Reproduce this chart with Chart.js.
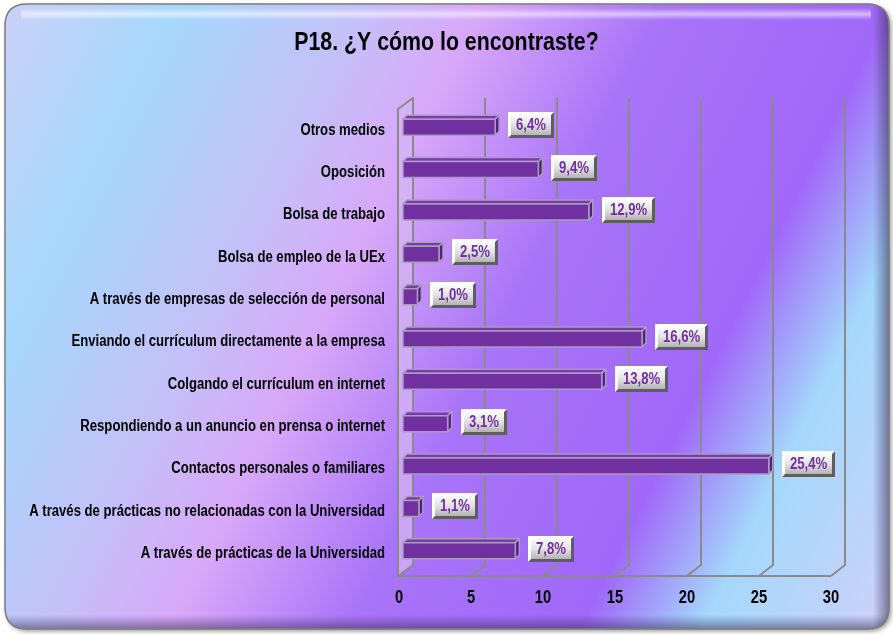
<!DOCTYPE html>
<html>
<head>
<meta charset="utf-8">
<script src="https://cdn.jsdelivr.net/npm/chart.js@4.4.1/dist/chart.umd.min.js"></script>
<style>
  html, body { margin: 0; padding: 0; background: #fff; }
  #wrap { width: 893px; height: 634px; }
</style>
</head>
<body>
<div id="wrap"><canvas id="chart" width="893" height="634"></canvas></div>
<script>
const categories = [
  "Otros medios",
  "Oposición",
  "Bolsa de trabajo",
  "Bolsa de empleo de la UEx",
  "A través de empresas de selección de personal",
  "Enviando el currículum directamente a la empresa",
  "Colgando el currículum en internet",
  "Respondiendo a un anuncio en prensa o internet",
  "Contactos personales o familiares",
  "A través de prácticas no relacionadas con la Universidad",
  "A través de prácticas de la Universidad"
];
const values = [6.4, 9.4, 12.9, 2.5, 1.0, 16.6, 13.8, 3.1, 25.4, 1.1, 7.8];
const xTicks = [0, 5, 10, 15, 20, 25, 30];
const title = "P18. ¿Y cómo lo encontraste?";

const FONT = "'Liberation Sans', Arial, sans-serif";
const GRID = "#8a8a8a";

// Arial Narrow look: bold Liberation Sans squeezed horizontally
function narrowText(ctx, text, x, y, size, align, color, baseline) {
  ctx.save();
  ctx.translate(x, y);
  ctx.scale(0.82, 1);
  ctx.font = "bold " + size + "px " + FONT;
  ctx.textAlign = align;
  ctx.textBaseline = baseline || "middle";
  ctx.fillStyle = color;
  ctx.fillText(text, 0, 0);
  ctx.restore();
}

function roundPath(ctx, x, y, w, h, r) {
  ctx.beginPath();
  ctx.moveTo(x + r, y);
  ctx.lineTo(x + w - r, y);
  ctx.quadraticCurveTo(x + w, y, x + w, y + r);
  ctx.lineTo(x + w, y + h - r);
  ctx.quadraticCurveTo(x + w, y + h, x + w - r, y + h);
  ctx.lineTo(x + r, y + h);
  ctx.quadraticCurveTo(x, y + h, x, y + h - r);
  ctx.lineTo(x, y + r);
  ctx.quadraticCurveTo(x, y, x + r, y);
  ctx.closePath();
}

function poly(ctx, pts, fill, stroke, lw) {
  ctx.beginPath();
  ctx.moveTo(pts[0][0], pts[0][1]);
  for (let i = 1; i < pts.length; i++) ctx.lineTo(pts[i][0], pts[i][1]);
  ctx.closePath();
  if (fill) { ctx.fillStyle = fill; ctx.fill(); }
  if (stroke) { ctx.strokeStyle = stroke; ctx.lineWidth = lw || 1; ctx.stroke(); }
}

const frame3d = {
  id: "frame3d",
  beforeDraw(chart) {
    const ctx = chart.ctx;
    const fx = 5, fy = 4, fw = 884, fh = 625, r = 22;
    ctx.save();
    ctx.fillStyle = "#fff";
    ctx.fillRect(0, 0, chart.width, chart.height);

    // panel background
    const g = ctx.createLinearGradient(0, 0, 968, 484);
    g.addColorStop(0.00, "#cdd0f8");
    g.addColorStop(0.15, "#a6d8fc");
    g.addColorStop(0.30, "#c4c0f8");
    g.addColorStop(0.40, "#d8a8f8");
    g.addColorStop(0.55, "#a874f8");
    g.addColorStop(0.74, "#a068f8");
    g.addColorStop(0.84, "#a4d8fc");
    g.addColorStop(1.00, "#d0d0f8");
    ctx.shadowColor = "rgba(0,0,0,0.45)";
    ctx.shadowBlur = 5;
    ctx.shadowOffsetX = 2;
    ctx.shadowOffsetY = 2;
    roundPath(ctx, fx, fy, fw, fh, r);
    ctx.fillStyle = g;
    ctx.fill();
    ctx.shadowColor = "transparent";

    // bevel: dark right / bottom, light top
    ctx.save();
    roundPath(ctx, fx, fy, fw, fh, r);
    ctx.clip();
    let s = ctx.createLinearGradient(fx + fw - 16, 0, fx + fw, 0);
    s.addColorStop(0, "rgba(50,40,80,0)");
    s.addColorStop(1, "rgba(50,40,80,0.55)");
    ctx.fillStyle = s;
    ctx.fillRect(fx + fw - 16, fy, 16, fh);
    s = ctx.createLinearGradient(0, fy + fh - 14, 0, fy + fh);
    s.addColorStop(0, "rgba(50,40,80,0)");
    s.addColorStop(1, "rgba(50,40,80,0.5)");
    ctx.fillStyle = s;
    ctx.fillRect(fx, fy + fh - 14, fw, 14);
    s = ctx.createLinearGradient(0, fy + 4, 0, fy + 16);
    s.addColorStop(0, "rgba(255,255,255,0)");
    s.addColorStop(0.5, "rgba(255,255,255,0.55)");
    s.addColorStop(1, "rgba(255,255,255,0)");
    ctx.fillStyle = s;
    ctx.fillRect(fx + 16, fy + 4, fw - 34, 12);
    ctx.restore();

    roundPath(ctx, fx, fy, fw, fh, r);
    ctx.strokeStyle = "#7c7c7c";
    ctx.lineWidth = 1.5;
    ctx.stroke();

    narrowText(ctx, title, chart.width / 2, 50, 26, "center", "#000", "alphabetic");
    ctx.restore();
  },
  beforeDatasetsDraw(chart) {
    const ctx = chart.ctx;
    const xs = chart.scales.x;
    const a = chart.chartArea;
    const topBack = a.top - 8, floorFront = a.bottom + 4, floorBack = floorFront - 11;
    ctx.save();
    ctx.lineJoin = "round";
    // left wall
    const x0 = xs.getPixelForValue(0);
    poly(ctx, [[x0 - 5, topBack + 11], [x0 + 10, topBack], [x0 + 10, floorBack], [x0 - 5, floorFront]],
      "rgba(214,182,246,0.75)", GRID, 2);
    // back gridlines and floor ticks
    xTicks.forEach(v => {
      if (v === 0) return;
      const xp = xs.getPixelForValue(v);
      ctx.beginPath();
      ctx.moveTo(xp + 10, topBack);
      ctx.lineTo(xp + 10, floorBack);
      ctx.lineTo(xp - 4, floorFront);
      ctx.strokeStyle = GRID;
      ctx.lineWidth = 2;
      ctx.stroke();
    });
    // front floor edge
    ctx.beginPath();
    ctx.moveTo(x0 - 5, floorFront);
    ctx.lineTo(xs.getPixelForValue(xTicks[xTicks.length - 1]) - 4, floorFront);
    ctx.strokeStyle = GRID;
    ctx.lineWidth = 2;
    ctx.stroke();

    // category labels
    const ys = chart.scales.y;
    categories.forEach((c, i) => {
      narrowText(ctx, c, x0 - 18, ys.getPixelForValue(i) + 3, 16, "right", "#000");
    });
    ctx.restore();
  },
  afterDatasetsDraw(chart) {
    const ctx = chart.ctx;
    const xs = chart.scales.x;
    const a = chart.chartArea;
    const meta = chart.getDatasetMeta(0);
    const d = 4;
    ctx.save();
    ctx.lineJoin = "round";
    meta.data.forEach((el, i) => {
      const p = el.getProps(["x", "y", "base", "height"], true);
      const x1 = p.x, x0 = p.base, t = p.y - p.height / 2, b = p.y + p.height / 2;
      const edge = "#a99cbf";
      // top face
      poly(ctx, [[x0, t], [x0 + d, t - d], [x1 + d, t - d], [x1, t]], "#7b3aab", edge, 1.5);
      // side face
      poly(ctx, [[x1, t], [x1 + d, t - d], [x1 + d, b - d], [x1, b]], "#52207e", edge, 1.5);
      // front face
      poly(ctx, [[x0, t], [x1, t], [x1, b], [x0, b]], "#7030a0", edge, 1.5);

      // value box
      const txt = values[i].toFixed(1).replace(".", ",") + "%";
      ctx.font = "bold 16px " + FONT;
      const tw = ctx.measureText(txt).width * 0.82;
      const bw = Math.round(tw + 16), bh = 26;
      const bx = Math.round(x1 + 13), by = Math.round(p.y - 15);
      ctx.fillStyle = "#5e5e5e";
      ctx.fillRect(bx, by, bw, bh);
      poly(ctx, [[bx, by], [bx + bw, by], [bx + bw - 3, by + 3], [bx + 3, by + bh - 3], [bx, by + bh]], "#ffffff");
      const gg = ctx.createLinearGradient(0, by + 3, 0, by + bh - 3);
      gg.addColorStop(0, "#fbfbfb");
      gg.addColorStop(0.5, "#e2e2e2");
      gg.addColorStop(1, "#b4b4b4");
      ctx.fillStyle = gg;
      ctx.fillRect(bx + 3, by + 3, bw - 6, bh - 6);
      narrowText(ctx, txt, bx + bw / 2, by + bh / 2 + 1, 16, "center", "#7030a0");
    });

    // x tick labels on the front floor edge
    xTicks.forEach(v => {
      narrowText(ctx, String(v), xs.getPixelForValue(v) - 4, a.bottom + 26, 18, "center", "#000");
    });
    ctx.restore();
  }
};

new Chart(document.getElementById("chart"), {
  type: "bar",
  data: {
    labels: categories,
    datasets: [{
      data: values,
      backgroundColor: "rgba(0,0,0,0)",
      borderWidth: 0,
      barThickness: 16
    }]
  },
  options: {
    indexAxis: "y",
    responsive: false,
    animation: false,
    layout: { padding: { left: 403, right: 58, top: 106, bottom: 62 } },
    plugins: {
      legend: { display: false },
      tooltip: { enabled: false },
      title: { display: false }
    },
    scales: {
      x: { display: false, min: 0, max: 30 },
      y: { display: false }
    }
  },
  plugins: [frame3d]
});
</script>
</body>
</html>
